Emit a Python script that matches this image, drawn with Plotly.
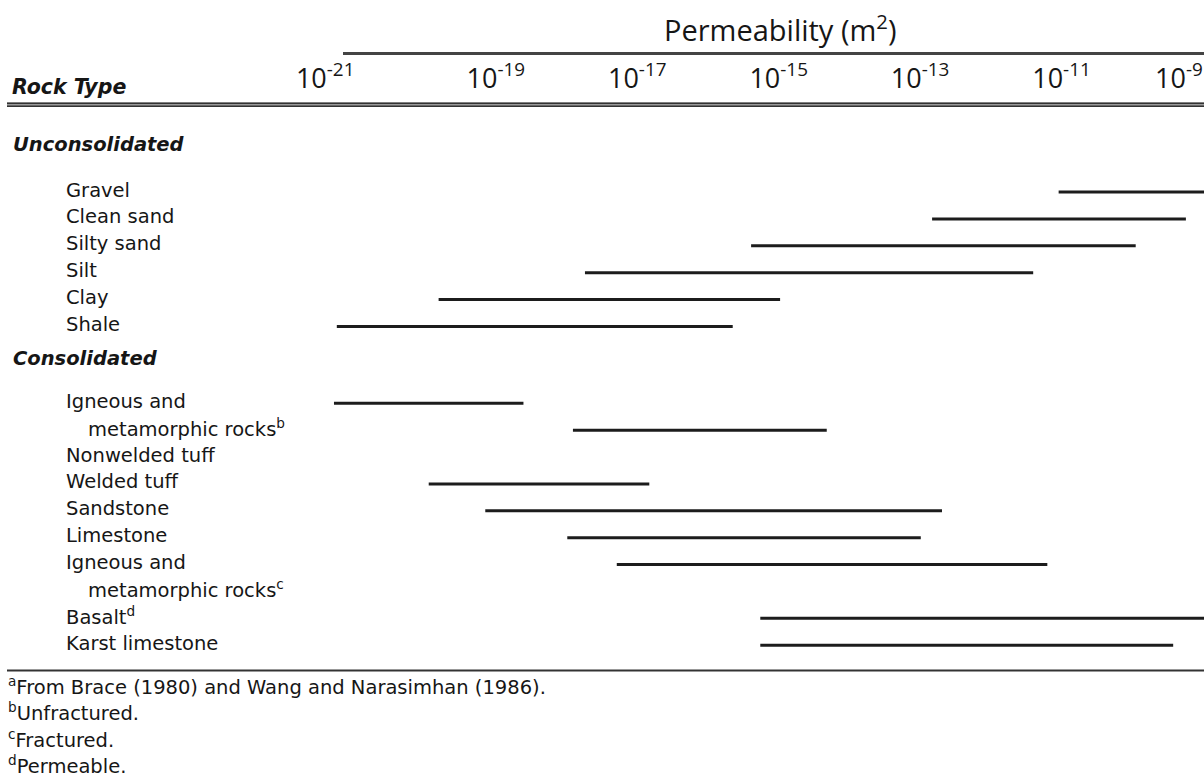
import plotly.graph_objects as go

# ---------------- data (permeability ranges, log10 of m^2) ----------------
unconsolidated_types = ["Gravel", "Clean sand", "Silty sand", "Silt", "Clay", "Shale"]
unconsolidated_low = [-11.04, -12.83, -15.39, -17.74, -19.81, -21.25]
unconsolidated_high = [-8.0, -9.24, -9.95, -11.40, -14.98, -15.65]

consolidated_label_lines = ["Igneous and", "metamorphic rocks<sup>b</sup>", "Nonwelded tuff",
                            "Welded tuff", "Sandstone", "Limestone", "Igneous and",
                            "metamorphic rocks<sup>c</sup>", "Basalt<sup>d</sup>", "Karst limestone"]
consolidated_indent = [False, True, False, False, False, False, False, True, False, False]
consolidated_types = ["Igneous and metamorphic rocks (unfractured)", "Nonwelded tuff", "Welded tuff",
                      "Sandstone", "Limestone", "Igneous and metamorphic rocks (fractured)",
                      "Basalt", "Karst limestone"]
consolidated_bar_line = [0, 1, 3, 4, 5, 6, 8, 9]
consolidated_low = [-21.29, -17.91, -19.95, -19.15, -17.99, -17.29, -15.26, -15.26]
consolidated_high = [-18.61, -14.32, -16.83, -12.69, -12.99, -11.20, -8.0, -9.42]

tick_exponents_main = [-19, -17, -15, -13, -11]
tick_exponents_edge = [-21, -9]

footnotes = ["<sup>a</sup>From Brace (1980) and Wang and Narasimhan (1986).",
             "<sup>b</sup>Unfractured.",
             "<sup>c</sup>Fractured.",
             "<sup>d</sup>Permeable."]

# ---------------- layout constants ----------------
W, H = 1204, 778
X_RANGE = [-26.014, -8.984]          # log10 range of the axis
Y_RANGE = [21.801, -7.143]           # row units, reversed
CONS_START = 7.86                    # row position of first consolidated line
INK = "#1c1c1c"
TXT = "#161616"
LABEL_FONT = dict(family="DejaVu Sans", size=19.5, color=TXT)
HEAD_FONT = dict(family="DejaVu Sans", size=19.5, color=TXT, weight="bold", style="italic")
TICK_FONT = dict(family="Open Sans", size=27, color=TXT)


def py(pix):
    return 1 - pix / H


def px(pix):
    return pix / W


fig = go.Figure()

for name, lo, hi, row in zip(unconsolidated_types, unconsolidated_low, unconsolidated_high,
                             range(len(unconsolidated_types))):
    fig.add_trace(go.Scatter(x=[10 ** lo, 10 ** hi], y=[row, row], mode="lines", name=name,
                             line=dict(color=INK, width=3), showlegend=False,
                             hoverinfo="skip", xaxis="x", yaxis="y"))

for name, lo, hi, li in zip(consolidated_types, consolidated_low, consolidated_high,
                            consolidated_bar_line):
    row = CONS_START + li
    fig.add_trace(go.Scatter(x=[10 ** lo, 10 ** hi], y=[row, row], mode="lines", name=name,
                             line=dict(color=INK, width=3), showlegend=False,
                             hoverinfo="skip", xaxis="x2", yaxis="y"))

annotations = []
# column header + title
annotations.append(dict(text="Rock Type", x=px(10), y=py(87), xref="paper", yref="paper",
                        xanchor="left", yanchor="middle", showarrow=False,
                        font=dict(HEAD_FONT, size=20.5)))
annotations.append(dict(text="Permeability (m<sup>2</sup>)", x=px(781), y=py(28), xref="paper",
                        yref="paper", xanchor="center", yanchor="middle", showarrow=False,
                        font=dict(family="Open Sans", size=29, color=TXT)))
# section headers
annotations.append(dict(text="Unconsolidated", x=px(11), y=-1.75, xref="paper", yref="y",
                        xanchor="left", yanchor="middle", showarrow=False, font=HEAD_FONT))
annotations.append(dict(text="Consolidated", x=px(11), y=CONS_START - 1.68, xref="paper", yref="y",
                        xanchor="left", yanchor="middle", showarrow=False, font=HEAD_FONT))
# row labels
for i, name in enumerate(unconsolidated_types):
    annotations.append(dict(text=name, x=px(64), y=i, xref="paper", yref="y", yshift=2,
                            xanchor="left", yanchor="middle", showarrow=False, font=LABEL_FONT))
for i, (name, ind) in enumerate(zip(consolidated_label_lines, consolidated_indent)):
    annotations.append(dict(text=name, x=px(86 if ind else 64), y=CONS_START + i, xref="paper",
                            yref="y", yshift=2, xanchor="left", yanchor="middle",
                            showarrow=False, font=LABEL_FONT))
# footnotes
for i, t in enumerate(footnotes):
    annotations.append(dict(text=t, x=px(6), y=py(686 + 26.4 * i), xref="paper", yref="paper",
                            xanchor="left", yanchor="middle", showarrow=False, font=LABEL_FONT))

shapes = [
    dict(type="line", xref="paper", yref="paper", x0=px(343), x1=1, y0=py(53.5), y1=py(53.5),
         line=dict(color="#444444", width=3)),
    dict(type="line", xref="paper", yref="paper", x0=px(7), x1=1, y0=py(104.6), y1=py(104.6),
         line=dict(color="#9a9a9a", width=4)),
    dict(type="line", xref="paper", yref="paper", x0=px(7), x1=1, y0=py(103.2), y1=py(103.2),
         line=dict(color="#333333", width=1.5)),
    dict(type="line", xref="paper", yref="paper", x0=px(7), x1=1, y0=py(106.2), y1=py(106.2),
         line=dict(color="#333333", width=1.5)),
    dict(type="line", xref="paper", yref="paper", x0=px(7), x1=1, y0=py(670.5), y1=py(670.5),
         line=dict(color="#333333", width=2)),
]

axis_common = dict(type="log", range=X_RANGE, domain=[0, 1], side="top", anchor="free",
                   position=py(93), showgrid=False, zeroline=False, showline=False, ticks="",
                   tickmode="array", tickfont=TICK_FONT, fixedrange=True)

fig.update_layout(
    width=W, height=H,
    margin=dict(l=0, r=0, t=0, b=0),
    paper_bgcolor="white", plot_bgcolor="white",
    xaxis=dict(**axis_common,
               tickvals=[10.0 ** e for e in tick_exponents_main],
               ticktext=["10<sup>%d</sup>" % e for e in tick_exponents_main]),
    xaxis2=dict(**axis_common, overlaying="x",
                tickvals=[10.0 ** e for e in tick_exponents_edge],
                ticktext=["10<sup>%d</sup>" % e for e in tick_exponents_edge],
                ticklabelposition="outside left"),
    yaxis=dict(range=Y_RANGE, domain=[0, 1], visible=False, fixedrange=True),
    annotations=annotations,
    shapes=shapes,
    showlegend=False,
)

fig.write_html("out.html")
